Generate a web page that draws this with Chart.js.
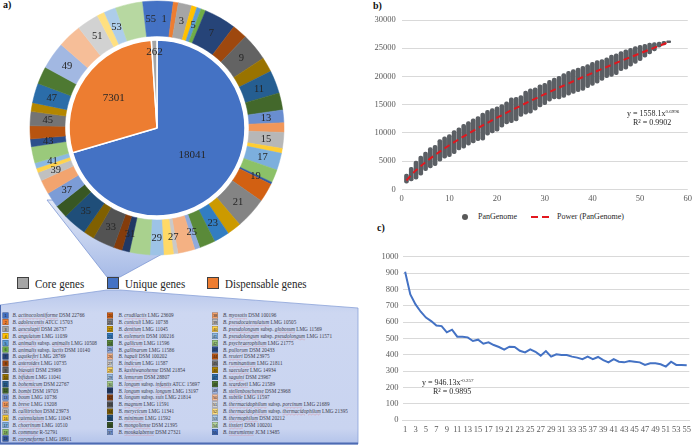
<!DOCTYPE html>
<html><head><meta charset="utf-8">
<script src="https://cdn.jsdelivr.net/npm/chart.js@4/dist/chart.umd.min.js"></script>
<style>
html,body{margin:0;padding:0;background:#fff;}
body{width:696px;height:447px;position:relative;overflow:hidden;font-family:"Liberation Serif","Times New Roman",serif;color:#262626;}
.abs{position:absolute;white-space:nowrap;}
.plabel{font-weight:bold;font-size:10px;line-height:10px;color:#111;}
.leg{font-size:11px;line-height:14px;transform:scaleY(1.12);transform-origin:0 50%;}
.sq{width:12px;height:12px;border:1px solid #3f3f3f;box-sizing:border-box;}
.small{font-size:8px;line-height:10px;color:#262626;}
.sup{font-size:5px;position:relative;top:-3px;}
#list{position:absolute;left:0;top:311.6px;width:720px;height:280px;transform:scale(0.5);transform-origin:0 0;font-size:10.4px;color:#3a3a4a;white-space:nowrap;}
#list .row{position:absolute;height:13.7px;line-height:13.7px;width:700px;}
#list .num{position:absolute;width:12px;height:12px;top:0.8px;font-size:7.5px;line-height:12px;text-align:center;color:#1e1e1e;border:1px solid rgba(40,40,60,0.45);box-sizing:border-box;font-family:"Liberation Sans",sans-serif;}
#list .nm{position:absolute;top:0;white-space:nowrap;}
#list i{text-decoration:underline wavy rgba(220,70,70,0.45);text-decoration-thickness:1px;}
</style></head><body>

<svg class="abs" style="left:0;top:0" width="696" height="447">
 <defs>
  <linearGradient id="wg" x1="0" y1="0" x2="0" y2="1"><stop offset="0" stop-color="#e2e8f6"/><stop offset="1" stop-color="#a7bbe7"/></linearGradient>
  <linearGradient id="bg" x1="0" y1="0" x2="0" y2="1"><stop offset="0" stop-color="#b9c8ec"/><stop offset="0.15" stop-color="#cdd7f1"/><stop offset="0.9" stop-color="#c9d4f0"/><stop offset="1" stop-color="#b3c3ea"/></linearGradient>
 </defs>
 <polygon points="47,200 261,200 120,277 107,277" fill="url(#wg)" stroke="#7e98d4" stroke-width="0.8"/>
 <polygon points="107,290 120,290 358,308 358,444 0,444 0,305" fill="url(#bg)" stroke="#8aa2d8" stroke-width="0.8"/>
 <line x1="0" y1="443.5" x2="358" y2="443.5" stroke="#4d6bb3" stroke-width="2"/>
 <line x1="0.5" y1="305" x2="0.5" y2="444" stroke="#4d6bb3" stroke-width="1"/>
</svg>

<div class="abs plabel" style="left:3px;top:0px">a)</div>
<div class="abs plabel" style="left:373px;top:1px">b)</div>
<div class="abs plabel" style="left:377px;top:223px">c)</div>

<div class="abs" style="left:27px;top:-2px;width:260px;height:260px"><canvas id="pie" width="260" height="260"></canvas></div>

<div class="abs sq" style="left:17px;top:277px;background:#A5A5A5"></div>
<div class="abs leg" style="left:35px;top:276.5px">Core genes</div>
<div class="abs sq" style="left:107px;top:277px;background:#4472C4"></div>
<div class="abs leg" style="left:125px;top:276.5px">Unique genes</div>
<div class="abs sq" style="left:207px;top:277px;background:#ED7D31"></div>
<div class="abs leg" style="left:225px;top:276.5px">Dispensable genes</div>

<div id="list"></div>

<div class="abs" style="left:350px;top:0px;width:346px;height:210px"><canvas id="pan" width="346" height="210"></canvas></div>
<div class="abs" style="left:462px;top:214px;width:6px;height:6px;border-radius:50%;background:#595959"></div>
<div class="abs small" style="left:478px;top:212px">PanGenome</div>
<svg class="abs" style="left:530px;top:215px" width="22" height="4"><line x1="1" y1="2" x2="21" y2="2" stroke="#e3171e" stroke-width="2" stroke-dasharray="7,4"/></svg>
<div class="abs small" style="left:557px;top:212px">Power (PanGenome)</div>
<div class="abs small" style="left:627px;top:109px">y = 1558.1x<span class="sup">0.6996</span></div>
<div class="abs small" style="left:633px;top:118px">R² = 0.9902</div>

<div class="abs" style="left:350px;top:232px;width:346px;height:215px"><canvas id="core" width="346" height="215"></canvas></div>
<div class="abs small" style="left:422px;top:378px">y = 946.13x<span class="sup">-0.257</span></div>
<div class="abs small" style="left:433px;top:387px">R² = 0.9895</div>

<script>
// ---------- DATA ----------
const pieLabels = ['Unique genes', 'Dispensable genes', 'Core genes'];
const pieValues = [18041, 7301, 262];

const strainNumbers = Array.from({length: 55}, (_, i) => i + 1);
const uniqueGenesPerStrain = [371,115,311,120,100,110,737,346,631,341,
  526,391,291,220,366,110,391,301,50,436,
  722,326,356,366,120,391,100,226,311,466,
  175,200,501,251,551,301,351,326,200,100,
  125,376,175,301,326,200,451,401,626,551,
  501,175,276,626,326];

const speciesNames = ["actinocoloniiforme","adolescentis","aesculapii","angulatum","animalis subsp. animalis","animalis subsp. lactis","aquikefiri","asteroides","biavatii","bifidum","bohemicum","bombi","boum","breve","callitrichos","catenulatum","choerinum","commune","coryneforme",
  "crudilactis","cuniculi","dentium","eulemuris","gallicum","gallinarum","hapali","indicum","kashiwanohense","lemurum","longum subsp. infantis","longum subsp. longum","longum subsp. suis","magnum","merycicum","minimum","mongoliense","moukalabense",
  "myosotis","pseudocatenulatum","pseudolongum subsp. globosum","pseudolongum subsp. pseudolongum","psychraerophilum","pullorum","reuteri","ruminantium","saeculare","saguini","scardovii","stellenboschense","subtile","thermacidophilum subsp. porcinum","thermacidophilum subsp. thermacidophilum","thermophilum","tissieri","tsurumiense"];
const strainIds = ["DSM 22766","ATCC 15703","DSM 26737","LMG 11039","LMG 10508","DSM 10140","LMG 28769","LMG 10735","DSM 23969","LMG 11041","DSM 22767","DSM 19703","LMG 10736","LMG 13208","DSM 23973","LMG 11043","LMG 10510","R-52791","LMG 18911",
  "LMG 23609","LMG 10738","LMG 11045","DSM 100216","LMG 11596","LMG 11586","DSM 100202","LMG 11587","DSM 21854","DSM 28807","ATCC 15697","LMG 13197","LMG 21814","LMG 11591","LMG 11341","LMG 11592","DSM 21395","DSM 27321",
  "DSM 100196","LMG 10505","LMG 11569","LMG 11571","LMG 21775","DSM 20433","DSM 23975","LMG 21811","LMG 14934","DSM 23967","LMG 21589","DSM 23968","LMG 11597","LMG 21689","LMG 21395","DSM 20212","DSM 100201","JCM 13485"];

const panGenomeX = [1,2,3,4,5,6,7,8,9,10,11,12,13,14,15,16,17,18,19,20,21,22,23,24,25,26,27,28,29,30,31,32,33,34,35,36,37,38,39,40,41,42,43,44,45,46,47,48,49,50,51,52,53,54,55,56];
const panGenomeMin = [1100,1500,1800,2500,3300,3800,4200,5000,5500,5800,6300,7000,7300,7800,8200,8600,8700,9600,10000,10300,11000,11600,11800,12100,12900,13300,13500,14000,14600,15000,15600,16000,16000,16300,16700,17000,17300,17500,18000,18400,18800,19300,19800,20000,20300,21000,21300,21800,22300,22800,23400,24000,24500,25200,25600,26000];
const panGenomeMax = [2700,3900,5000,5900,6600,7400,7800,8800,9300,9700,10400,10900,11500,12000,12500,12900,13500,14000,14300,14600,15000,15500,16200,16300,16600,17400,17800,18000,18500,18800,19300,19700,20000,20500,20900,21200,21500,21800,22100,22500,22800,23000,23300,23800,24000,24400,24700,25000,25300,25500,25700,25900,26000,26100,26200,26300];
const powerFitX = [1,2,3,5,8,10,15,20,25,30,35,40,45,50,56];
const powerFitY = [1560,2530,3360,4810,6680,7810,10370,12690,14830,16850,18770,20610,22390,24090,26080];

const coreGenomeLabels = Array.from({length: 55}, (_, i) => String(i + 1));
const newGenesValues = [908,769,708,663,627,606,578,575,537,553,510,510,506,484,492,467,476,459,447,431,449,447,424,414,433,418,394,422,388,402,398,398,388,382,373,388,373,386,367,353,373,357,353,361,357,353,337,347,347,341,327,357,337,337,335];

// ---------- STYLE HELPERS ----------
const accents = ['#4472C4','#ED7D31','#A5A5A5','#FFC000','#5B9BD5','#70AD47'];
const lumVariants = [[1,0],[0.6,0],[0.8,0.2],[0.8,0],[0.6,0.4],[0.5,0],[0.7,0.3],[0.7,0],[0.5,0.5],[1,0]];
function hexToHsl(h){let r=parseInt(h.slice(1,3),16)/255,g=parseInt(h.slice(3,5),16)/255,b=parseInt(h.slice(5,7),16)/255;
 const mx=Math.max(r,g,b),mn=Math.min(r,g,b);let hh=0,s=0,l=(mx+mn)/2;
 if(mx!==mn){const d=mx-mn;s=l>0.5?d/(2-mx-mn):d/(mx+mn);
  if(mx===r)hh=(g-b)/d+(g<b?6:0);else if(mx===g)hh=(b-r)/d+2;else hh=(r-g)/d+4;hh/=6;}
 return [hh,s,l];}
function hslToHex(h,s,l){function f(p,q,t){if(t<0)t+=1;if(t>1)t-=1;if(t<1/6)return p+(q-p)*6*t;if(t<1/2)return q;if(t<2/3)return p+(q-p)*(2/3-t)*6;return p;}
 let r,g,b;if(s===0){r=g=b=l;}else{const q=l<0.5?l*(1+s):l+s-l*s,p=2*l-q;r=f(p,q,h+1/3);g=f(p,q,h);b=f(p,q,h-1/3);}
 return '#'+[r,g,b].map(v=>Math.round(v*255).toString(16).padStart(2,'0')).join('');}
function seriesColor(i){const a=accents[i%6];const [m,o]=lumVariants[Math.floor(i/6)];const [h,s,l]=hexToHsl(a);return hslToHex(h,s,Math.min(1,l*m+o));}
const ringColors = strainNumbers.map((_, i) => seriesColor(i));

const SERIF = '"Liberation Serif", "Times New Roman", serif';
Chart.defaults.font.family = SERIF;
Chart.defaults.color = '#595959';
const tickFont = { family: SERIF, size: 8.5 };

// ---------- PIE / RING ----------
const pieLabelRadius = [0.5, 0.6, 0.87];
const ringLabelPlugin = {
  id: 'ringLabels',
  afterDatasetsDraw(chart) {
    const ctx = chart.ctx;
    ctx.save();
    ctx.fillStyle = '#262626';
    ctx.textAlign = 'center';
    ctx.textBaseline = 'middle';
    ctx.font = '10.5px ' + SERIF;
    chart.getDatasetMeta(0).data.forEach((arc, i) => {
      if (i % 2 === 0) { const p = arc.tooltipPosition(true); ctx.fillText(String(strainNumbers[i]), p.x, p.y + 0.5); }
    });
    ctx.font = '11px ' + SERIF;
    chart.getDatasetMeta(2).data.forEach((arc, i) => {
      const p = arc.getProps(['x','y','startAngle','endAngle','outerRadius'], true);
      const mid = (p.startAngle + p.endAngle) / 2, r = p.outerRadius * pieLabelRadius[i];
      ctx.fillText(String(pieValues[i]), p.x + Math.cos(mid) * r, p.y + Math.sin(mid) * r + 0.5);
    });
    ctx.restore();
  }
};
new Chart(document.getElementById('pie'), {
  type: 'doughnut',
  data: {
    labels: strainNumbers,
    datasets: [
      { data: uniqueGenesPerStrain, backgroundColor: ringColors, borderColor: ringColors, borderWidth: 0.5, weight: 35 },
      { data: [1], backgroundColor: ['#ffffff'], borderColor: '#ffffff', borderWidth: 0, weight: 4 },
      { data: pieValues, backgroundColor: ['#4472C4','#ED7D31','#A5A5A5'], borderColor: '#ffffff', borderWidth: 1.5, weight: 88 }
    ]
  },
  options: {
    responsive: false, animation: false, cutout: 0, radius: 127, hoverOffset: 0, offset: 0,
    layout: { padding: 0 },
    plugins: { legend: { display: false }, tooltip: { enabled: false } }
  },
  plugins: [ringLabelPlugin]
});

// ---------- SPECIES LIST ----------
(function(){
  const list = document.getElementById('list');
  const cols = [{start:0,end:19,sq:5,tx:25},{start:19,end:37,sq:214,tx:237},{start:37,end:55,sq:424,tx:446}];
  cols.forEach(c => {
    for (let i = c.start; i < c.end; i++) {
      const row = document.createElement('div');
      row.className = 'row';
      row.style.top = ((i - c.start) * 13.7) + 'px';
      row.style.left = '0px';
      const n = document.createElement('div');
      n.className = 'num'; n.style.left = c.sq + 'px'; n.style.background = ringColors[i];
      n.textContent = strainNumbers[i];
      const t = document.createElement('div');
      t.className = 'nm'; t.style.left = c.tx + 'px';
      const parts = speciesNames[i].split(' ').map(w => w === 'subsp.' ? 'subsp.' : '<i>' + w + '</i>').join(' ');
      t.innerHTML = '<span style="font-style:italic">B.</span> ' + parts + ' ' + strainIds[i];
      row.appendChild(n); row.appendChild(t);
      list.appendChild(row);
    }
  });
})();

// ---------- PAN GENOME ----------
new Chart(document.getElementById('pan'), {
  type: 'bar',
  data: {
    datasets: [
      { type: 'line', label: 'Power (PanGenome)', data: powerFitX.map((x, i) => ({x, y: powerFitY[i]})),
        borderColor: '#e3171e', borderWidth: 2, borderDash: [6, 4], pointRadius: 0, cubicInterpolationMode: 'monotone', order: 0 },
      { type: 'bar', label: 'PanGenome', data: panGenomeX.map((x, i) => ({x, y: [panGenomeMin[i], panGenomeMax[i]]})),
        backgroundColor: '#5b5f64', borderWidth: 0, borderRadius: 2, borderSkipped: false, barThickness: 4, order: 1 }
    ]
  },
  options: {
    responsive: false, animation: false,
    layout: { padding: { left: 0, right: 4, top: 20, bottom: 6.7 } },
    plugins: { legend: { display: false }, tooltip: { enabled: false } },
    scales: {
      x: { type: 'linear', min: 0, max: 60, offset: false,
        ticks: { stepSize: 10, padding: 4, font: tickFont, color: '#595959' },
        grid: { display: false, drawTicks: false }, border: { display: false },
        afterFit(s) { s.height = 14; } },
      y: { min: 0, max: 30000,
        ticks: { stepSize: 5000, padding: 6, font: tickFont, color: '#595959', callback: v => String(v) },
        grid: { color: '#d9d9d9', drawTicks: false }, border: { display: false },
        afterFit(s) { s.width = 51.7; } }
    }
  }
});

// ---------- NEW GENES ----------
new Chart(document.getElementById('core'), {
  type: 'line',
  data: {
    labels: coreGenomeLabels,
    datasets: [{ data: newGenesValues, borderColor: '#4472C4', borderWidth: 2, pointRadius: 0, tension: 0 }]
  },
  options: {
    responsive: false, animation: false,
    layout: { padding: { left: 0, right: 4, top: 24.7, bottom: 11 } },
    plugins: { legend: { display: false }, tooltip: { enabled: false } },
    scales: {
      x: { offset: true,
        ticks: { autoSkip: false, maxRotation: 0, minRotation: 0, padding: 5, font: tickFont, color: '#595959',
          callback: function(v, i) { return i % 2 === 0 ? this.getLabelForValue(v) : ''; } },
        grid: { display: false, drawTicks: false }, border: { display: true, color: '#d9d9d9' },
        afterFit(s) { s.height = 16; } },
      y: { min: 0, max: 1000,
        ticks: { stepSize: 100, padding: 4, font: tickFont, color: '#595959', callback: v => String(v) },
        grid: { color: '#d9d9d9', drawTicks: false }, border: { display: false },
        afterFit(s) { s.width = 52.5; } }
    }
  }
});
</script>
</body></html>
